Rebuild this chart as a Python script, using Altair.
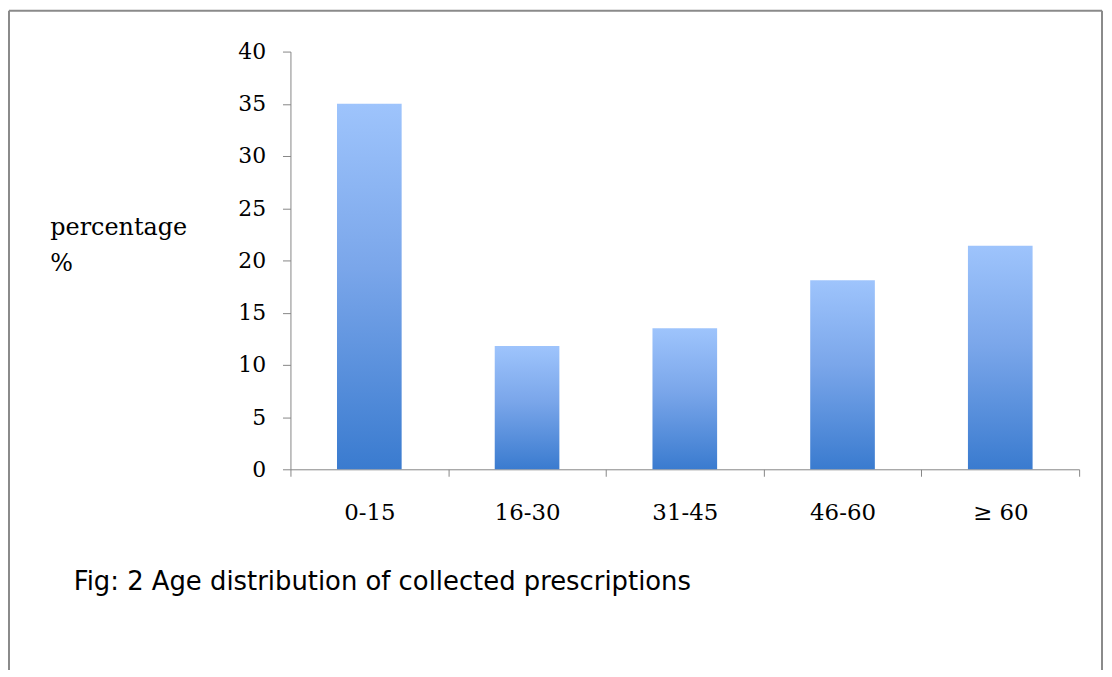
import altair as alt
import pandas as pd

categories = ["0-15", "16-30", "31-45", "46-60", "≥ 60"]
values = [35.0, 11.8, 13.5, 18.1, 21.4]
y_ticks = [0, 5, 10, 15, 20, 25, 30, 35, 40]
y_title = ["percentage", "%"]
caption = "Fig: 2 Age distribution of collected prescriptions"

df = pd.DataFrame({"age": categories, "pct": values})

W, H = 793, 420
AXIS_COLOR = "#868686"
BORDER_COLOR = "#8a8a8a"

gradient = alt.LinearGradient(
    gradient="linear", x1=0, y1=0, x2=0, y2=1,
    stops=[alt.GradientStop(color="#9ec4fc", offset=0),
           alt.GradientStop(color="#7aa6ea", offset=0.45),
           alt.GradientStop(color="#3a7bcf", offset=1)],
)

bars = alt.Chart(df).mark_bar(color=gradient, width=alt.RelativeBandSize(65 / 158.6)).encode(
    x=alt.X("age:N", sort=categories,
            scale=alt.Scale(paddingInner=0, paddingOuter=0),
            axis=alt.Axis(title=None, labelAngle=0, tickBand="extent",
                          labelFont="DejaVu Serif", labelFontSize=23, labelColor="black",
                          labelBaseline="alphabetic", labelPadding=43,
                          tickSize=7, tickColor=AXIS_COLOR, domainColor=AXIS_COLOR)),
    y=alt.Y("pct:Q", scale=alt.Scale(domain=[0, 40], nice=False),
            axis=alt.Axis(values=y_ticks, grid=False, title=y_title, titleAngle=0,
                          titleAlign="left", titleBaseline="alphabetic",
                          titleX=-242, titleY=184, titleLineHeight=36,
                          titleFont="DejaVu Serif", titleFontSize=24, titleFontWeight="normal",
                          titleColor="black",
                          labelFont="DejaVu Serif", labelFontSize=22, labelColor="black",
                          labelPadding=17, tickSize=8,
                          tickColor=AXIS_COLOR, domainColor=AXIS_COLOR)),
)

cap = alt.Chart(pd.DataFrame({"t": [caption]})).mark_text(
    align="left", baseline="alphabetic", font="DejaVu Sans", fontSize=26, color="black"
).encode(text="t:N", x=alt.value(-218), y=alt.value(541))

border_top = alt.Chart(pd.DataFrame({"t": [caption]})).mark_rule(
    color=BORDER_COLOR, strokeWidth=2
).encode(x=alt.value(-283), x2=alt.value(816), y=alt.value(-41))
border_left = alt.Chart(pd.DataFrame({"t": [caption]})).mark_rule(
    color=BORDER_COLOR, strokeWidth=2
).encode(x=alt.value(-283), y=alt.value(-41), y2=alt.value(700))
border_right = alt.Chart(pd.DataFrame({"t": [caption]})).mark_rule(
    color=BORDER_COLOR, strokeWidth=2
).encode(x=alt.value(816), y=alt.value(-41), y2=alt.value(700))

chart = alt.layer(bars, cap, border_top, border_left, border_right).properties(
    width=W, height=H,
    background="white",
    autosize=alt.AutoSizeParams(type="none"),
    padding={"left": 284, "top": 42, "right": 25, "bottom": 200},
).configure_view(stroke=None, strokeWidth=0)

chart.save("out.html", embed_options={"renderer": "svg", "actions": False})
